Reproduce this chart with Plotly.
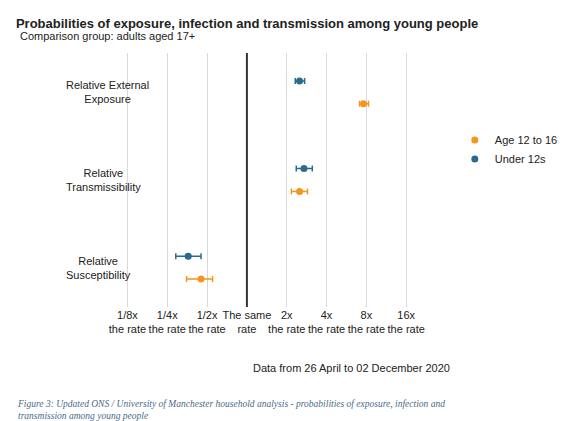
import plotly.graph_objects as go

categories = ["Relative External<br>Exposure", "Relative<br>Transmissibility", "Relative<br>Susceptibility"]
under12 = [2.5, 2.7, 0.36]
under12_lo = [2.32, 2.36, 0.29]
under12_hi = [2.73, 3.12, 0.45]
age1216 = [7.6, 2.5, 0.45]
age1216_lo = [7.1, 2.17, 0.35]
age1216_hi = [8.3, 2.87, 0.55]
tick_vals = [0.125, 0.25, 0.5, 1, 2, 4, 8, 16]
tick_text = ["1/8x<br>the rate", "1/4x<br>the rate", "1/2x<br>the rate", "The same<br>rate",
             "2x<br>the rate", "4x<br>the rate", "8x<br>the rate", "16x<br>the rate"]

ypos = [3, 2, 1]
fig = go.Figure()
def add(name, vals, lo, hi, off, color):
    fig.add_trace(go.Scatter(
        x=vals, y=[p + off for p in ypos], mode="markers", name=name,
        marker=dict(color=color, size=7),
        error_x=dict(type="data", symmetric=False,
                     array=[h - v for h, v in zip(hi, vals)],
                     arrayminus=[v - l for v, l in zip(vals, lo)],
                     color=color, thickness=1.5, width=3)))
add("Age 12 to 16", age1216, age1216_lo, age1216_hi, -0.13, "#f7941d")
add("Under 12s", under12, under12_lo, under12_hi, 0.13, "#2b6a8f")

fig.add_shape(type="line", x0=1, x1=1, y0=0, y1=1, yref="paper", xref="x",
              line=dict(color="#333", width=2))

fig.update_layout(
    width=567, height=421, plot_bgcolor="white", paper_bgcolor="white",
    font=dict(family="Liberation Sans, Arial", size=11, color="#222"),
    margin=dict(l=100, r=117, t=45, b=122),
    title=dict(text="<b>Probabilities of exposure, infection and transmission among young people</b>",
               x=0.014, xanchor="left", y=0.975, font=dict(size=13)),
    showlegend=True,
    legend=dict(x=1.02, y=0.62, font=dict(size=11), traceorder="normal", itemwidth=30),
    xaxis=dict(type="log", range=[-1.05, 1.52], tickvals=tick_vals, ticktext=tick_text,
               tickangle=0, showgrid=True, gridcolor="#d9d9d9", zeroline=False, ticks="",
               tickfont=dict(size=11)),
    yaxis=dict(range=[0.55, 3.45], tickvals=ypos, showticklabels=False, showgrid=False,
               zeroline=False),
)
for p, c in zip(ypos, categories):
    fig.add_annotation(text=c, x=-0.13, xref="paper", y=p, yref="y", showarrow=False,
                       align="center", font=dict(size=11))
fig.add_annotation(text="Comparison group: adults aged 17+", xref="paper", yref="paper",
                   x=-0.265, y=1.1, xanchor="left", showarrow=False, font=dict(size=11))
fig.add_annotation(text="Data from 26 April to 02 December 2020", xref="paper", yref="paper",
                   x=0.42, y=-0.27, xanchor="left", showarrow=False, font=dict(size=11))
fig.add_annotation(text="<i>Figure 3: Updated ONS / University of Manchester household analysis - probabilities of exposure, infection and<br>transmission among young people</i>",
                   xref="paper", yref="paper", x=-0.275, y=-0.355, xanchor="left", yanchor="top",
                   align="left", showarrow=False,
                   font=dict(size=9.5, family="Liberation Serif, Times New Roman", color="#4a6a8a"))
fig.write_html("out.html")
